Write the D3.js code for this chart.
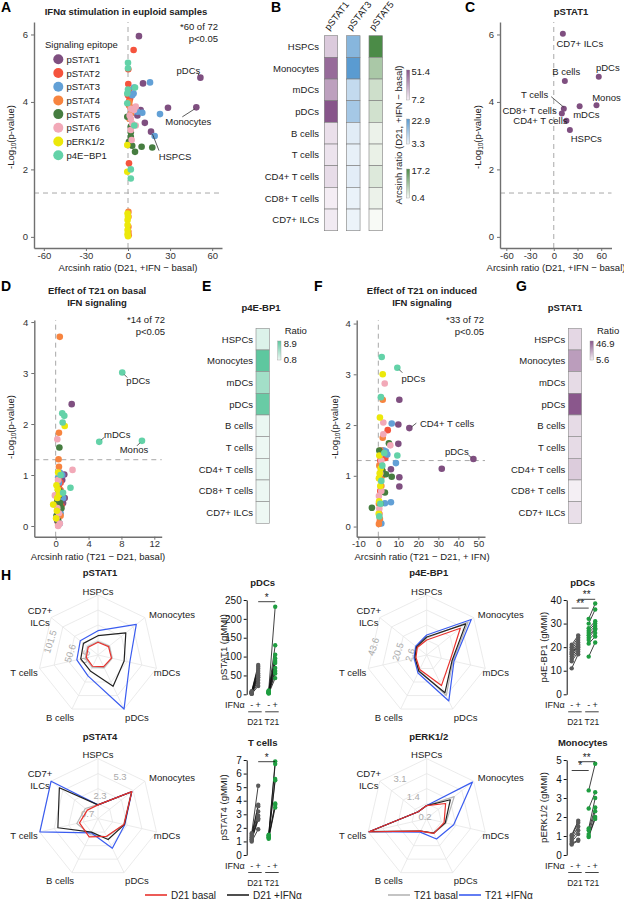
<!DOCTYPE html>
<html><head><meta charset="utf-8">
<script src="https://cdn.jsdelivr.net/npm/d3@7/dist/d3.min.js"></script>
<style>
html,body{margin:0;padding:0;background:#fff;}
svg{display:block;font-family:"Liberation Sans",Arial,Helvetica,sans-serif;}
</style></head><body>
<svg id="fig" width="624" height="900"></svg>
<script>
// ================= DATA =================
const epitopes = ["pSTAT1","pSTAT2","pSTAT3","pSTAT4","pSTAT5","pSTAT6","pERK1/2","p4E\u2212BP1"];
const epitopeColors = ["#7f4f80","#f5533d","#62a0d6","#f7843f","#467d40","#f2a9b8","#ece80a","#63d2a8"];
const cellTypes = ["HSPCs","Monocytes","mDCs","pDCs","B cells","T cells","CD4+ T cells","CD8+ T cells","CD7+ ILCs"];
const radarAxes = ["HSPCs","Monocytes","mDCs","pDCs","B cells","T cells","CD7+ ILCs"];

// Panel A: [arcsinh ratio, -log10 p] per epitope
const scatterA = [
  [[7.8,5.95],[10.7,4.55],[28.5,3.83],[48.7,3.84],[51.6,4.72],[9,3.76],[12,3.38],[16.4,3.12],[6.7,3.6]],
  [[4,5.54],[0.2,4.97],[0.2,4.53],[0,4.2],[1,4.05],[0.7,3.9],[0.7,2.18],[0.7,4.35],[1.5,4.1]],
  [[15.7,4.58],[4.3,4.43],[3,4.2],[22.8,3.64],[19,2.99],[10.2,3.68],[6.7,3.71],[1.9,3.66],[4,4.25]],
  [[0.3,0.74],[0.3,0.6],[0.3,0.3],[0.3,0.15],[1,4.0],[1.5,3.85],[1,3.5],[0.5,0.05],[2,3.65]],
  [[-0.5,3.56],[2,3.27],[2,2.97],[3,2.7],[5,2.52],[9.7,2.67],[17.3,2.65],[0.7,2.82],[2,3.1]],
  [[2,3.8],[5.5,3.86],[2,3.5],[3,3.36],[5.5,3.3],[2,3.17],[2.6,2.87],[1.2,3.6],[4.3,3.76]],
  [[-0.5,2.72],[-0.5,1.93],[-0.3,0.69],[-0.3,0.5],[-0.3,0.35],[-0.3,0.2],[-0.3,0.08],[0,0.02],[0,0.6]],
  [[0,5.16],[0,5.0],[0,4.37],[5,4.43],[-0.5,4.25],[-0.5,3.96],[2,2.0],[2,1.73],[4.5,3.3]]
];

// Panel C (pSTAT1)
const panelCCells = ["CD7+ ILCs","B cells","pDCs","Monos","mDCs","T cells","CD8+ T cells","CD4+ T cells","HSPCs"];
const panelCX = [11.5,14,56.9,54,32.7,12.7,10.2,16,20.4];
const panelCY = [6.02,4.62,4.75,3.9,3.87,3.8,3.66,3.44,3.17];

// Panel D
const scatterD = [
  [[1.95,2.39],[1.05,1.01],[0.8,0.9],[1.1,0.55],[0.5,0.3],[0.2,0.1],[0.6,0.65],[0.3,0.2],[0.9,0.45]],
  [[0.4,0.95],[0.6,0.7],[0.3,0.5],[0.5,0.3],[0.2,0.6],[0.6,0.85],[0.3,0.15],[0.7,0.4],[0.4,0.75]],
  [[0.5,1.05],[0.8,1.0],[0.3,0.95],[0.7,0.6],[0.9,0.55],[0.4,0.85],[0.6,0.25],[0.2,0.35],[0.5,0.05]],
  [[0.5,3.71],[0.4,1.83],[0.35,1.31],[0.4,1.16],[0.3,0.9],[0.5,0.7],[0.2,0.45],[0.6,0.2],[0.3,0.02]],
  [[0.45,1.54],[0.3,0.7],[0.5,0.68],[0.7,0.35],[0.2,0.5],[0.4,0.6],[0.1,0.2],[0.3,0.1],[0.55,0.45]],
  [[0.2,1.7],[2.05,1.1],[-0.1,0.6],[0.3,0.9],[0.2,0.35],[0.1,0.15],[0.3,0.0],[0.4,0.25],[0.5,0.05]],
  [[1.1,1.96],[-0.3,0.42],[0.1,0.8],[0.2,0.55],[0.3,1.05],[0.15,0.3],[0.4,0.62],[0.05,0.15],[0.25,0.72]],
  [[8.1,3.01],[5.3,1.65],[10.5,1.67],[0.8,2.21],[1.05,2.16],[0.85,2.03],[1.8,0.75],[0.6,1.0],[0.9,0.65]]
];

// Panel F
const scatterF = [
  [[10.5,2.5],[10,2.01],[15.5,1.94],[10,1.63],[47.5,1.33],[31.7,1.14],[6.3,1.13],[10.5,0.97],[10.5,0.79]],
  [[4.7,1.9],[2,1.5],[1,1.3],[3.5,1.35],[0.5,0.95],[1,0.7],[0.5,0.25],[0.8,0.1],[2,1.1]],
  [[6.7,2.03],[3.8,1.48],[8.8,1.25],[6.3,0.48],[3.3,0.46],[2.8,1.5],[1.5,1.2],[4.5,1.42],[1.5,0.06]],
  [[2.2,2.5],[2.2,1.75],[1,1.5],[0.5,1.2],[2,1.0],[1.5,0.8],[0.3,0.45],[0.8,0.15],[0.3,0.05]],
  [[5.3,1.64],[3.8,1.03],[6.7,0.98],[3.3,0.67],[-3.2,0.37],[1.5,1.15],[2,1.1],[0.5,1.5],[1,0.45]],
  [[3.2,2.82],[2.5,2.05],[2.5,1.82],[6,1.6],[1.5,1.3],[1.5,0.7],[0.5,0.35],[1,1.05],[0.3,0.6]],
  [[2.2,3.0],[0.8,2.15],[0.5,1.4],[0.7,1.05],[0.4,0.5],[1.2,1.15],[0.2,0.25],[1,0.8],[0.3,0.95]],
  [[1.7,3.34],[9.5,3.13],[1.3,2.55],[9.5,1.4],[2,1.2],[1.5,0.9],[1,0.45],[0.5,0.2],[3,1.45]]
];

// Panel B heatmap
const heatBColumns = ["pSTAT1","pSTAT3","pSTAT5"];
const heatBValues = [
  [18,45,30,51.4,12,11,13,8,9],
  [17,22.9,9,13,5,4.2,4.8,3.8,3.6],
  [17.2,8,4.5,4.2,1.6,1.8,3,1.6,0.4]
];
const heatBRanges = [[7.2,51.4],[3.3,22.9],[0.4,17.2]];
// Panel E (p4E-BP1) and G (pSTAT1)
const heatEValues = [1.8,8.9,5,8.3,1.0,0.9,1.0,0.9,0.8];
const heatERange = [0.8,8.9];
const heatGValues = [12,28,11,46.9,11,11,15,5.6,10];
const heatGRange = [5.6,46.9];

// Panel H radars: values per axis (HSPCs, Monocytes, mDCs, pDCs, B cells, T cells, CD7+ ILCs)
const radarSeries = ["T21 basal","T21 +IFN\u03b1","D21 +IFN\u03b1","D21 basal"];
const radar_pSTAT1 = {
  "D21 basal":[-0.3,1.9,2.8,0.5,-0.9,-2.3,-0.9],
  "D21 +IFN\u03b1":[18.2,64,39.3,61.8,13.7,13.7,16.3],
  "T21 basal":[1.9,4.7,4.7,3.3,1.9,0.5,1.9],
  "T21 +IFN\u03b1":[32.3,101.7,55.6,132.6,29.2,25,27.8]
};
const radar_p4EBP1 = {
  "D21 basal":[0.7,31.4,10.6,21.5,1.8,-3.7,-2.6],
  "D21 +IFN\u03b1":[4.0,39.1,12.7,30.3,4.0,-2.6,-1.5],
  "T21 basal":[2.9,42.4,13.8,33.6,2.9,-2.6,-2.1],
  "T21 +IFN\u03b1":[6.2,46.8,14.9,40.2,6.2,-1.5,-0.4]
};
const radar_pSTAT4 = {
  "D21 basal":[0.97,4.77,2.63,1.74,1.82,1.65,0.96],
  "D21 +IFN\u03b1":[0.97,4.74,2.68,2.2,1.14,4.5,5.56],
  "T21 basal":[1.0,4.7,2.6,1.8,1.5,2.0,1.3],
  "T21 +IFN\u03b1":[0.97,4.77,2.74,3.45,1.24,6.87,6.92]
};
const radar_pERK = {
  "D21 basal":[0.45,1.29,0.81,0.71,0.52,3.92,0.29],
  "D21 +IFN\u03b1":[0.45,1.74,0.9,0.67,0.52,3.9,0.29],
  "T21 basal":[0.45,2.12,0.95,0.7,0.52,3.9,0.29],
  "T21 +IFN\u03b1":[0.45,3.87,1.55,1.17,0.6,3.92,0.29]
};
const radarTicks_pSTAT1 = [0.5,50.6,101.5];
const radarTicks_p4EBP1 = [2.6,20.5,43.6];
const radarTicks_pSTAT4 = [0.7,2.3,5.3];
const radarTicks_pERK = [0.2,1.4,3.1];

// Panel H dot plots (gMMI), paired donors
const dot_pSTAT1 = {
  d21b:[1,2,3,3,4,5,5,6,7,8], d21i:[22,30,38,45,50,55,62,68,73,78],
  t21b:[2,3,4,5,5,6,7,8,9,10], t21i:[43,55,62,70,83,88,95,105,130,232]
};
const dot_p4EBP1 = {
  d21b:[11,14,15,16,17,17.5,18,19,20,21], d21i:[17,18,19,20,20.5,21,22,23,24,25],
  t21b:[16,21.5,23,24,25,26,27,28,30,32], t21i:[22,24.5,26,27.5,28,29,30,31,36,38.5]
};
const dot_pSTAT4 = {
  d21b:[1.0,1.1,1.15,1.2,1.3,1.4,1.5,1.6], d21i:[1.9,2.6,2.7,2.9,3.2,3.6,3.7,5.1],
  t21b:[1.2,1.25,1.3,1.35,1.4,1.45,1.5], t21i:[3.5,3.7,3.8,5.5,5.6,6.7,6.9]
};
const dot_pERK = {
  d21b:[0.55,0.6,0.7,0.8,0.9,1.0,1.05], d21i:[0.75,0.8,1.1,1.3,1.5,1.7,1.8],
  t21b:[0.95,1.0,1.1,1.3,1.4,2.45,3.4], t21i:[1.9,2.0,2.3,2.5,3.0,3.3,4.8]
};

// ================= DRAWING =================
const FONT = '"Liberation Sans", Arial, sans-serif';
const svg = d3.select("#fig");
const TXT = "#222";
const intFmt = d => String(d);

function txt(g, x, y, s, o = {}) {
  const t = g.append("text").attr("x", x).attr("y", y).text(s)
    .attr("font-size", o.size || 9.5).attr("fill", o.fill || TXT)
    .attr("text-anchor", o.anchor || "start");
  if (o.bold) t.attr("font-weight", "bold");
  if (o.baseline) t.attr("dominant-baseline", o.baseline);
  return t;
}
function panelLetter(x, y, s) { txt(svg, x, y, s, {size: 14, bold: true, fill: "#000"}); }

function styleAxis(g) {
  g.attr("font-family", FONT).attr("font-size", 9.5);
  g.select(".domain").attr("stroke", "#707070").attr("stroke-width", 1.4);
  g.selectAll(".tick line").attr("stroke", "#707070");
  g.selectAll(".tick text").attr("fill", "#333");
}

function yLabelLog(g, x, y) {
  const t = g.append("text").attr("transform", `translate(${x},${y}) rotate(-90)`)
    .attr("text-anchor", "middle").attr("font-size", 9.5).attr("fill", TXT);
  t.append("tspan").text("-Log");
  t.append("tspan").text("10").attr("font-size", 6.5).attr("dy", 2);
  t.append("tspan").text("(p-value)").attr("dy", -2);
}

function scatter(cfg) {
  const x = d3.scaleLinear().domain(cfg.xd).range(cfg.xr);
  const y = d3.scaleLinear().domain(cfg.yd).range(cfg.yr);
  const g = svg.append("g");
  g.append("line").attr("x1", x(0)).attr("x2", x(0)).attr("y1", cfg.yr[0]).attr("y2", cfg.yr[1])
    .attr("stroke", "#a8a8a8").attr("stroke-width", 1).attr("stroke-dasharray", "5,4");
  g.append("line").attr("x1", cfg.xr[0]).attr("x2", cfg.xr[1]).attr("y1", y(1.3)).attr("y2", y(1.3))
    .attr("stroke", "#a8a8a8").attr("stroke-width", 1).attr("stroke-dasharray", "5,4");
  const gx = g.append("g").attr("transform", `translate(0,${cfg.yr[0]})`)
    .call(d3.axisBottom(x).tickValues(cfg.xt).tickFormat(intFmt).tickSizeInner(3).tickSizeOuter(0).tickPadding(1));
  styleAxis(gx);
  const gy = g.append("g").attr("transform", `translate(${cfg.xr[0]},0)`)
    .call(d3.axisLeft(y).tickValues(cfg.yt).tickFormat(intFmt).tickSizeInner(3).tickSizeOuter(0).tickPadding(3));
  styleAxis(gy);
  if (cfg.data) {
    cfg.data.forEach((pts, e) => {
      g.selectAll(null).data(pts).enter().append("circle")
        .attr("cx", d => x(d[0])).attr("cy", d => y(d[1])).attr("r", cfg.r || 3.3)
        .attr("fill", epitopeColors[e]);
    });
  }
  return {x, y, g};
}

function pointLabel(S, px, py, label, tdx, tdy, l1, l2, anchor) {
  const X = S.x(px), Y = S.y(py);
  if (l1) S.g.append("line").attr("x1", X + l1[0]).attr("y1", Y + l1[1]).attr("x2", X + l2[0]).attr("y2", Y + l2[1])
    .attr("stroke", "#333").attr("stroke-width", 0.8);
  txt(S.g, X + tdx, Y + tdy, label, {anchor: anchor || "middle", baseline: "central", size: 9.5});
}

// ---------- Panel A ----------
panelLetter(1, 12, "A");
txt(svg, 126, 15, "IFN\u03b1 stimulation in euploid samples", {anchor: "middle", bold: true, size: 9.5});
const SA = scatter({xd: [-67, 67], xr: [34, 222], yd: [-0.33, 6.37], yr: [248, 22],
  xt: [-60, -30, 0, 30, 60], yt: [0, 2, 4, 6], data: scatterA, r: 3.3});
txt(svg, 218, 30, "*60 of 72", {anchor: "end"});
txt(svg, 218, 42, "p<0.05", {anchor: "end"});
yLabelLog(svg, 14, 137);
txt(svg, 128, 271, "Arcsinh ratio (D21, +IFN \u2212 basal)", {anchor: "middle"});
txt(svg, 45, 48, "Signaling epitope", {size: 9.5});
epitopes.forEach((e, i) => {
  svg.append("circle").attr("cx", 58.3).attr("cy", 59.3 + i * 13.7).attr("r", 5).attr("fill", epitopeColors[i]);
  txt(svg, 66.5, 59.3 + i * 13.7, e, {baseline: "central"});
});
pointLabel(SA, 51.6, 4.72, "pDCs", -12, -7, [-1.5, -2.5], [-3, -5]);
pointLabel(SA, 48.7, 3.84, "Monocytes", -8, 14.5, [-1.5, 1.5], [-14, 9.5]);
pointLabel(SA, 16.4, 3.12, "HSPCS", 24, 24.5, [1.5, 2.5], [8, 19]);

// ---------- Panel B ----------
panelLetter(271, 12, "B");
{
  const g = svg.append("g");
  const cx = d3.scaleBand().domain(heatBColumns).range([324.3, 382.4]).paddingInner(0.4);
  const ry = d3.scaleBand().domain(cellTypes).range([35.7, 230.7]);
  const ramps = [["#f6f0f6", "#87558a"], ["#eef4fa", "#5a9bd1"], ["#f8faf6", "#4b8b47"]];
  heatBColumns.forEach((c, j) => {
    const col = d3.scaleLinear().domain(heatBRanges[j]).range(ramps[j]).clamp(true);
    g.selectAll(null).data(heatBValues[j]).enter().append("rect")
      .attr("x", cx(c)).attr("y", (d, i) => ry(cellTypes[i])).attr("width", cx.bandwidth()).attr("height", ry.bandwidth())
      .attr("fill", d => col(d)).attr("stroke", "#7d7d7d").attr("stroke-width", 0.6);
    g.append("text").attr("transform", `translate(${cx(c) + cx.bandwidth() / 2 - 2},31) rotate(-52)`)
      .attr("font-size", 9.5).attr("fill", TXT).text(c);
  });
  cellTypes.forEach(c => txt(g, 319, ry(c) + ry.bandwidth() / 2, c, {anchor: "end", baseline: "central"}));
  const defs = svg.append("defs");
  const bars = [[70, 100], [119, 144], [169, 198]];
  heatBRanges.forEach((rg, j) => {
    const id = "gB" + j;
    const lg = defs.append("linearGradient").attr("id", id).attr("x1", 0).attr("x2", 0).attr("y1", 0).attr("y2", 1);
    lg.append("stop").attr("offset", "0%").attr("stop-color", ramps[j][1]);
    lg.append("stop").attr("offset", "100%").attr("stop-color", ramps[j][0]);
    g.append("rect").attr("x", 406.5).attr("y", bars[j][0]).attr("width", 3.3).attr("height", bars[j][1] - bars[j][0])
      .attr("fill", `url(#${id})`).attr("stroke", "#999").attr("stroke-width", 0.4);
    txt(g, 411.5, bars[j][0] + 1, String(rg[1]), {baseline: "central"});
    txt(g, 411.5, bars[j][1] - 1, String(rg[0]), {baseline: "central"});
  });
  g.append("text").attr("transform", "translate(398,135) rotate(-90)").attr("text-anchor", "middle")
    .attr("font-size", 9.5).attr("fill", TXT).attr("dominant-baseline", "central").text("Arcsinh ratio (D21, +IFN \u2212 basal)");
}

// ---------- Panel C ----------
panelLetter(465, 12, "C");
txt(svg, 571, 15, "pSTAT1", {anchor: "middle", bold: true});
const SC = scatter({xd: [-68, 73], xr: [500, 611.5], yd: [-0.33, 6.37], yr: [248, 22],
  xt: [-60, -30, 0, 30, 60], yt: [0, 2, 4, 6]});
SC.g.selectAll(null).data(panelCX).enter().append("circle")
  .attr("cx", d => SC.x(d)).attr("cy", (d, i) => SC.y(panelCY[i])).attr("r", 3).attr("fill", epitopeColors[0]);
yLabelLog(svg, 481, 137);
txt(svg, 556, 271, "Arcsinh ratio (D21, +IFN \u2212 basal)", {anchor: "middle"});
const cLabelOff = [[17, 9.6], [1.4, -9.3], [9, -9], [10, -7.6], [6.7, 8], [-29.3, -14.4], [-32.3, -3.3], [-26, 0], [16.4, 8.3]];
panelCCells.forEach((c, i) => {
  if (c === "T cells") pointLabel(SC, panelCX[i], panelCY[i], c, cLabelOff[i][0], cLabelOff[i][1], [-12.6, -12], [0, -1.5]);
  else pointLabel(SC, panelCX[i], panelCY[i], c, cLabelOff[i][0], cLabelOff[i][1]);
});

// ---------- Panel D ----------
panelLetter(1, 291, "D");
txt(svg, 97, 294, "Effect of T21 on basal", {anchor: "middle", bold: true});
txt(svg, 97, 306, "IFN signaling", {anchor: "middle", bold: true});
const SD = scatter({xd: [-2.6, 12.9], xr: [34.3, 161.7], yd: [-0.21, 4.04], yr: [536.7, 320],
  xt: [0, 4, 8, 12], yt: [0, 1, 2, 3, 4], data: scatterD, r: 3.3});
txt(svg, 165, 323, "*14 of 72", {anchor: "end"});
txt(svg, 165, 335, "p<0.05", {anchor: "end"});
yLabelLog(svg, 14, 427);
txt(svg, 98, 560, "Arcsinh ratio (T21 \u2212 D21,  basal)", {anchor: "middle"});
pointLabel(SD, 8.1, 3.01, "pDCs", 16, 8, [2, 2], [5, 5]);
pointLabel(SD, 5.3, 1.65, "mDCs", 18, -7.5, [2, -2], [5, -4.4]);
pointLabel(SD, 10.5, 1.67, "Monos", -8, 8.5, [-2, 2], [-5, 5]);

// ---------- Panel E ----------
panelLetter(202, 291, "E");
function singleHeat(x0, titleX, title, values, range, ramp, legX) {
  const g = svg.append("g");
  const ry = d3.scaleBand().domain(cellTypes).range([328.3, 523.3]);
  const col = d3.scaleLinear().domain(range).range(ramp);
  txt(g, titleX, 311, title, {anchor: "middle", bold: true});
  g.selectAll(null).data(values).enter().append("rect")
    .attr("x", x0).attr("y", (d, i) => ry(cellTypes[i])).attr("width", 13.3).attr("height", ry.bandwidth())
    .attr("fill", d => col(d)).attr("stroke", "#8a8a8a").attr("stroke-width", 0.6);
  cellTypes.forEach(c => txt(g, x0 - 3, ry(c) + ry.bandwidth() / 2, c, {anchor: "end", baseline: "central"}));
  const id = "g" + title.replace(/[^a-zA-Z0-9]/g, "") + Math.round(x0);
  const lg = svg.append("defs").append("linearGradient").attr("id", id).attr("x1", 0).attr("x2", 0).attr("y1", 0).attr("y2", 1);
  lg.append("stop").attr("offset", "0%").attr("stop-color", ramp[1]);
  lg.append("stop").attr("offset", "100%").attr("stop-color", ramp[0]);
  g.append("rect").attr("x", legX).attr("y", 341).attr("width", 3.3).attr("height", 19)
    .attr("fill", `url(#${id})`).attr("stroke", "#999").attr("stroke-width", 0.4);
  txt(g, legX + 7, 333.5, "Ratio", {});
  txt(g, legX + 6, 343, String(range[1]), {baseline: "central"});
  txt(g, legX + 6, 359, String(range[0]), {baseline: "central"});
}
singleHeat(256, 261, "p4E-BP1", heatEValues, heatERange, ["#eef8f4", "#5ec79f"], 277.7);

// ---------- Panel F ----------
panelLetter(314, 291, "F");
txt(svg, 422, 294, "Effect of T21 on induced", {anchor: "middle", bold: true});
txt(svg, 422, 306, "IFN signaling", {anchor: "middle", bold: true});
const SF = scatter({xd: [-10.8, 53.3], xr: [356.7, 485], yd: [-0.2, 4.07], yr: [536.7, 320],
  xt: [-10, 0, 10, 20, 30, 40, 50], yt: [0, 1, 2, 3, 4], data: scatterF, r: 3.3});
txt(svg, 484, 323, "*33 of 72", {anchor: "end"});
txt(svg, 484, 335, "p<0.05", {anchor: "end"});
yLabelLog(svg, 338, 427);
txt(svg, 422, 560, "Arcsinh ratio (T21 \u2212 D21, + IFN)", {anchor: "middle"});
pointLabel(SF, 9.5, 3.13, "pDCs", 16, 10.6, [2, 2], [5, 5]);
pointLabel(SF, 15.5, 1.94, "CD4+ T cells", 37.7, -4.8, [2, -1], [7, -5]);
pointLabel(SF, 47.5, 1.33, "pDCs", -16.6, -7.4, [-2, -1.5], [-5, -4]);

// ---------- Panel G ----------
panelLetter(516, 291, "G");
singleHeat(568.3, 565, "pSTAT1", heatGValues, heatGRange, ["#f4eff4", "#8a578c"], 590);

// ---------- Panel H ----------
panelLetter(1, 580, "H");
const seriesColor = {"D21 basal": "#e8312d", "D21 +IFN\u03b1": "#222222", "T21 basal": "#b5b5b5", "T21 +IFN\u03b1": "#3a5cf0"};
const axisLabelOff = [[0, -64], [74, -41], [69, 17], [39, 62], [-38, 62], [-74, 17], [-58, -39]];

function radar(cfg) {
  const g = svg.append("g").attr("transform", `translate(${cfg.cx},${cfg.cy})`);
  const r = d3.scaleLinear().domain(cfg.domain).range([0, 60]);
  const n = radarAxes.length;
  const ang = i => i * 2 * Math.PI / n;
  const pt = (i, rr) => [rr * Math.sin(ang(i)), -rr * Math.cos(ang(i))];
  [15, 30, 45, 60].forEach(rr => g.append("path").attr("d", d3.line()(d3.range(n).map(i => pt(i, rr))) + "Z")
    .attr("fill", "none").attr("stroke", "#e6e6e6").attr("stroke-width", 0.8));
  d3.range(n).forEach(i => g.append("line").attr("x1", 0).attr("y1", 0).attr("x2", pt(i, 60)[0]).attr("y2", pt(i, 60)[1])
    .attr("stroke", "#e6e6e6").attr("stroke-width", 0.8));
  cfg.ticks.forEach((v, k) => {
    const o = cfg.tickPos[k];
    g.append("text").attr("transform", `translate(${o[0]},${o[1]}) rotate(${cfg.tickRot})`)
      .attr("text-anchor", "middle").attr("dominant-baseline", "central").attr("fill", "#ababab")
      .attr("font-size", 9.5).text(String(v));
  });
  const line = d3.lineRadial().angle((d, i) => ang(i)).radius(d => r(d)).curve(d3.curveLinearClosed);
  radarSeries.forEach(s => g.append("path").attr("d", line(cfg.data[s])).attr("fill", "none")
    .attr("stroke", seriesColor[s]).attr("stroke-width", 1.2).attr("stroke-linejoin", "round"));
  radarAxes.forEach((a, i) => {
    const o = axisLabelOff[i];
    if (a === "CD7+ ILCs") {
      txt(g, o[0], o[1] - 6, "CD7+", {anchor: "middle", baseline: "central"});
      txt(g, o[0], o[1] + 6, "ILCs", {anchor: "middle", baseline: "central"});
    } else txt(g, o[0], o[1], a, {anchor: "middle", baseline: "central"});
  });
  txt(svg, cfg.cx + 2, cfg.cy - 79, cfg.title, {anchor: "middle", bold: true});
}

radar({cx: 98, cy: 655, title: "pSTAT1", domain: [-36, 132.6], data: radar_pSTAT1, ticks: radarTicks_pSTAT1,
  tickPos: [[-13, 1.7], [-28, -1.7], [-48, -13.3]], tickRot: -72});
radar({cx: 426.7, cy: 655, title: "p4E-BP1", domain: [-15.8, 50.1], data: radar_p4EBP1, ticks: radarTicks_p4EBP1,
  tickPos: [[-16.7, 0], [-29, -3.3], [-53.4, -8.3]], tickRot: -72});
radar({cx: 98, cy: 818.6, title: "pSTAT4", domain: [-0.79, 6.92], data: radar_pSTAT4, ticks: radarTicks_pSTAT4,
  tickPos: [[-10.3, -5.3], [2, -23.6], [22, -42]], tickRot: 0});
radar({cx: 426.7, cy: 818.6, title: "pERK1/2", domain: [-0.53, 3.98], data: radar_pERK, ticks: radarTicks_pERK,
  tickPos: [[-1.7, -2.6], [-13.4, -22], [-26.7, -40.3]], tickRot: 0});

function dotPlot(cfg) {
  const g = svg.append("g");
  const y = d3.scaleLinear().domain([0, cfg.max]).range([cfg.y0, cfg.y1]);
  const groups = ["d21b", "d21i", "t21b", "t21i"];
  const x = d3.scaleOrdinal().domain(groups).range([cfg.ax + 5, cfg.ax + 11.5, cfg.ax + 22, cfg.ax + 28.5]);
  const gy = g.append("g").attr("transform", `translate(${cfg.ax},0)`)
    .call(d3.axisLeft(y).tickValues(cfg.ticks).tickFormat(intFmt).tickSizeInner(3).tickSizeOuter(0).tickPadding(2));
  gy.attr("font-family", FONT).attr("font-size", 10);
  gy.select(".domain").attr("stroke", "#111").attr("stroke-width", 1);
  gy.selectAll(".tick line").attr("stroke", "#111");
  gy.selectAll(".tick text").attr("fill", "#111");
  [["d21b", "d21i"], ["t21b", "t21i"]].forEach(([a, b]) => {
    cfg.data[a].forEach((v, i) => g.append("line").attr("x1", x(a)).attr("y1", y(v)).attr("x2", x(b)).attr("y2", y(cfg.data[b][i]))
      .attr("stroke", "#111").attr("stroke-width", 0.8));
  });
  groups.forEach(k => {
    g.selectAll(null).data(cfg.data[k]).enter().append("circle")
      .attr("cx", x(k)).attr("cy", d => y(d)).attr("r", 2.2)
      .attr("fill", k.startsWith("d") ? "#5a5a5a" : "#1f9d40");
  });
  cfg.sig.forEach(([a, b, s, lvl]) => {
    const yy = cfg.y1 + 1.7 + lvl * 8;
    g.append("line").attr("x1", x(a)).attr("x2", x(b)).attr("y1", yy).attr("y2", yy).attr("stroke", "#111").attr("stroke-width", 0.8);
    txt(g, (x(a) + x(b)) / 2, yy - 1.2, s, {anchor: "middle", size: 10});
  });
  txt(g, cfg.ax + 16, cfg.y1 - 14, cfg.title, {anchor: "middle", bold: true});
  g.append("text").attr("transform", `translate(${cfg.ax - 23},${(cfg.y0 + cfg.y1) / 2}) rotate(-90)`)
    .attr("text-anchor", "middle").attr("dominant-baseline", "central").attr("font-size", 9.5).attr("fill", TXT).text(cfg.ylabel);
  const yl = cfg.y0 + 11;
  txt(g, cfg.ax - 2, yl, "IFN\u03b1", {anchor: "end", baseline: "central", size: 9});
  groups.forEach(k => txt(g, x(k), yl, k.endsWith("b") ? "-" : "+", {anchor: "middle", baseline: "central", size: 9}));
  [["d21b", "d21i", "D21"], ["t21b", "t21i", "T21"]].forEach(([a, b, s]) => {
    g.append("line").attr("x1", x(a) - 3.5).attr("x2", x(b) + 3.5).attr("y1", yl + 6.5).attr("y2", yl + 6.5).attr("stroke", "#111").attr("stroke-width", 0.8);
    txt(g, (x(a) + x(b)) / 2, yl + 16.5, s, {anchor: "middle", baseline: "central", size: 8.5});
  });
}
dotPlot({ax: 246.7, y0: 694.3, y1: 600, max: 250, ticks: [0, 50, 100, 150, 200, 250], data: dot_pSTAT1,
  title: "pDCs", ylabel: "pSTAT1 (gMMI)", sig: [["d21i", "t21i", "*", 0]]});
dotPlot({ax: 566.7, y0: 694.3, y1: 600, max: 40, ticks: [0, 10, 20, 30, 40], data: dot_p4EBP1,
  title: "pDCs", ylabel: "p4E-BP1 (gMMI)", sig: [["d21i", "t21i", "**", -0.3], ["d21b", "t21b", "**", 0.8]]});
dotPlot({ax: 246.7, y0: 855, y1: 760, max: 7, ticks: [0, 1, 2, 3, 4, 5, 6, 7], data: dot_pSTAT4,
  title: "T cells", ylabel: "pSTAT4 (gMMI)", sig: [["d21i", "t21i", "*", 0]]});
dotPlot({ax: 566.7, y0: 855, y1: 760, max: 5, ticks: [0, 1, 2, 3, 4, 5], data: dot_pERK,
  title: "Monocytes", ylabel: "pERK1/2 (gMMI)", sig: [["d21i", "t21i", "**", 0], ["d21b", "t21b", "*", 1.1]]});

// bottom legend
const legendItems = ["D21 basal", "D21 +IFN\u03b1", "T21 basal", "T21 +IFN\u03b1"];
const legendX = [145, 227, 388, 459];
legendItems.forEach((s, i) => {
  svg.append("line").attr("x1", legendX[i]).attr("x2", legendX[i] + 22).attr("y1", 895).attr("y2", 895)
    .attr("stroke", seriesColor[s]).attr("stroke-width", 1.6);
  txt(svg, legendX[i] + 26, 895, s, {baseline: "central", size: 10});
});
</script></body></html>
